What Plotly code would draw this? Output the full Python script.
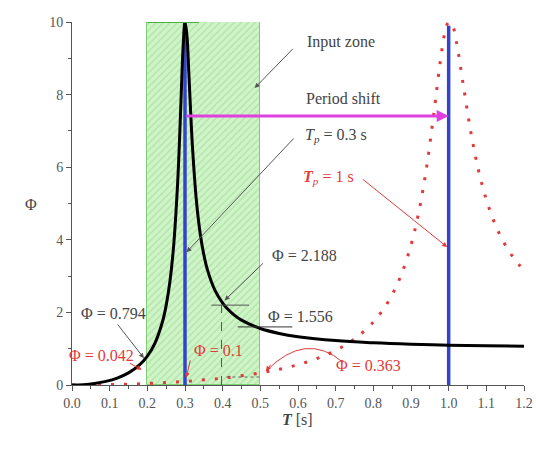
import plotly.graph_objects as go

# ---- data ----
T_black = [0.0, 0.03, 0.06, 0.09, 0.12, 0.15, 0.18, 0.20, 0.22, 0.24, 0.25, 0.26, 0.27, 0.28,
           0.285, 0.29, 0.295, 0.30, 0.305, 0.31, 0.315, 0.32, 0.33, 0.34, 0.35, 0.36, 0.38,
           0.40, 0.41, 0.43, 0.45, 0.50, 0.55, 0.60, 0.70, 0.80, 0.90, 1.00, 1.10, 1.20]
Phi_black = [0.0, 0.010, 0.042, 0.099, 0.190, 0.333, 0.560, 0.794, 1.149, 1.735, 2.193, 2.850,
             3.853, 5.474, 6.630, 8.000, 9.321, 10.0, 9.653, 8.640, 7.513, 6.530, 5.104, 4.195,
             3.587, 3.157, 2.598, 2.253, 2.126, 1.931, 1.787, 1.556, 1.419, 1.330, 1.223, 1.163,
             1.124, 1.098, 1.080, 1.066]

T_red = [0.0, 0.1, 0.2, 0.3, 0.4, 0.5, 0.55, 0.6, 0.65, 0.7, 0.75, 0.8, 0.825, 0.85, 0.875,
         0.9, 0.92, 0.94, 0.96, 0.98, 0.99, 1.0, 1.01, 1.02, 1.04, 1.06, 1.08, 1.1, 1.125,
         1.15, 1.175, 1.2]
Phi_red = [0.0, 0.010, 0.042, 0.099, 0.190, 0.333, 0.432, 0.560, 0.727, 0.952, 1.267, 1.735,
           2.063, 2.489, 3.060, 3.853, 4.727, 5.906, 7.435, 9.086, 9.706, 10.0, 9.906, 9.483,
           8.182, 6.901, 5.880, 5.104, 4.387, 3.863, 3.466, 3.157]

zone_T = [0.2, 0.5]
zone_Phi = 10
Tp_values = [0.3, 1.0]
x_ticks = [0.0, 0.1, 0.2, 0.3, 0.4, 0.5, 0.6, 0.7, 0.8, 0.9, 1.0, 1.1, 1.2]
x_labels = ["0.0", "0.1", "0.2", "0.3", "0.4", "0.5", "0.6", "0.7", "0.8", "0.9", "1.0", "1.1", "1.2"]
y_ticks = [0, 2, 4, 6, 8, 10]

FONT = "Liberation Serif"
GRAY = "#444444"
RED = "#e23a3a"
BLUE = "#3344cc"
MAGENTA = "#e040e0"

fig = go.Figure()

# input zone (hatched)
fig.add_trace(go.Bar(
    x=[(zone_T[0] + zone_T[1]) / 2], y=[zone_Phi], width=[zone_T[1] - zone_T[0]],
    marker=dict(color="rgba(190,240,180,0.75)",
                line=dict(color="#7fd070", width=1),
                pattern=dict(shape="/", fgcolor="rgba(90,180,80,0.55)", size=5, solidity=0.25)),
    showlegend=False, hoverinfo="skip"))

# blue vertical lines
for tp in Tp_values:
    fig.add_trace(go.Scatter(x=[tp, tp], y=[0, 9.9 if tp == 1.0 else 10], mode="lines",
                             line=dict(color=BLUE, width=3.5), showlegend=False))

# red dotted curve (Tp = 1 s)
fig.add_trace(go.Scatter(x=T_red, y=Phi_red, mode="lines", line_shape="spline",
                         line=dict(color=RED, width=3, dash="3px,10px"), showlegend=False))
# black curve (Tp = 0.3 s)
fig.add_trace(go.Scatter(x=T_black, y=Phi_black, mode="lines", line_shape="spline",
                         line=dict(color="black", width=3), showlegend=False))

shapes = [
    dict(type="line", x0=0.2, x1=0.337, y0=10, y1=10, line=dict(color="#4caf40", width=2)),
    dict(type="line", x0=0.37, x1=0.47, y0=2.2, y1=2.2, line=dict(color="#555", width=1)),
    dict(type="line", x0=0.397, x1=0.397, y0=0, y1=2.2, line=dict(color="#555", width=1, dash="dash")),
    dict(type="line", x0=0.44, x1=0.585, y0=1.6, y1=1.6, line=dict(color="#333", width=1)),
    dict(type="line", x0=0.41, x1=0.5, y0=0.22, y1=0.22, line=dict(color="#666", width=1, dash="dot")),
    dict(type="path", path="M 0.72,0.62 Q 0.62,1.5 0.515,0.38", line=dict(color=RED, width=1)),
]
fig.update_layout(shapes=shapes)

def txt(x, y, s, color=GRAY, size=16):
    fig.add_annotation(x=x, y=y, text=s, showarrow=False, xref="x", yref="y",
                       font=dict(family=FONT, size=size, color=color))

def arrow(x0, y0, x1, y1, color="#555", width=1, head=2, size=1):
    fig.add_annotation(x=x1, y=y1, ax=x0, ay=y0, xref="x", yref="y", axref="x", ayref="y",
                       text="", showarrow=True, arrowhead=head, arrowsize=size,
                       arrowwidth=width, arrowcolor=color)

txt(0.32, 10.33, "Φ = 10")
txt(0.715, 9.45, "Input zone")
txt(0.72, 7.88, "Period shift")
txt(0.70, 6.88, "<i>T</i><sub><i>p</i></sub> = 0.3 s")
txt(0.68, 5.73, "<b><i>T</i></b><sub><i>p</i></sub> = 1 s", color=RED)
txt(0.616, 3.58, "Φ = 2.188")
txt(0.606, 1.88, "Φ = 1.556")
txt(0.11, 1.98, "Φ = 0.794")
txt(0.079, 0.82, "Φ = 0.042", color=RED)
txt(0.388, 0.96, "Φ = 0.1", color=RED)
txt(0.786, 0.55, "Φ = 0.363", color=RED)

arrow(0.59, 9.3, 0.485, 8.18)
arrow(0.3, 7.41, 1.0, 7.41, color=MAGENTA, width=3, head=2, size=0.8)
arrow(0.592, 6.83, 0.304, 3.66)
arrow(0.768, 5.70, 0.996, 3.80, color=RED)
arrow(0.511, 3.39, 0.405, 2.33)
arrow(0.118, 1.71, 0.191, 0.74)
arrow(0.15, 0.62, 0.185, 0.42, color=RED)
arrow(0.315, 0.72, 0.303, 0.2, color=RED)
arrow(0.53, 0.6, 0.515, 0.38, color=RED, width=1, size=1)

# axis titles
fig.add_annotation(x=-0.108, y=4.96, xref="paper", yref="y", text="Φ", showarrow=False,
                   font=dict(family=FONT, size=16, color=GRAY))
fig.add_annotation(x=0.498, y=-0.125, xref="paper", yref="paper", text="<b><i>T</i></b> [s]",
                   showarrow=False, font=dict(family=FONT, size=16, color=GRAY))

fig.update_layout(
    width=536, height=450, margin=dict(l=72, r=12, t=22, b=65, autoexpand=False),
    plot_bgcolor="white", paper_bgcolor="white", bargap=0,
    font=dict(family=FONT, size=14, color="#555"),
    xaxis=dict(range=[0, 1.2], tickvals=x_ticks, ticktext=x_labels, showgrid=False,
               zeroline=False, showline=True, linecolor="#555", linewidth=1, automargin=False,
               ticks="outside", ticklen=5, tickcolor="#555", ticklabeloverflow="allow",
               minor=dict(dtick=0.05, ticks="outside", ticklen=3, tickcolor="#555")),
    yaxis=dict(range=[0, 10], tickvals=y_ticks, showgrid=False, zeroline=False,
               showline=True, linecolor="#555", linewidth=1, automargin=False,
               ticks="outside", ticklen=5, tickcolor="#555",
               minor=dict(dtick=1, ticks="outside", ticklen=3, tickcolor="#555")),
)

fig.write_html("out.html")
